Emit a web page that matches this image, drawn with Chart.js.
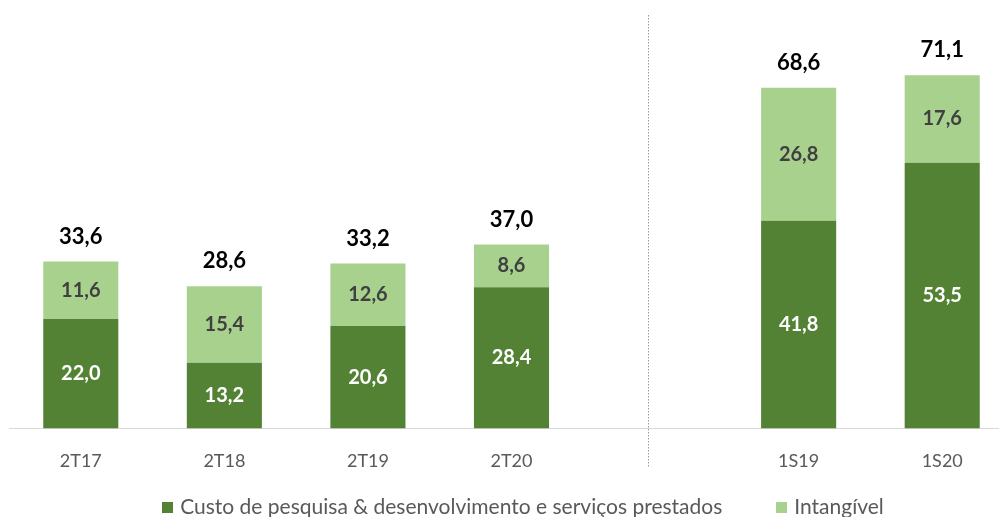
<!DOCTYPE html>
<html><head><meta charset="utf-8">
<script src="https://cdn.jsdelivr.net/npm/chart.js@4/dist/chart.umd.min.js"></script>
<style>
html,body{margin:0;padding:0;overflow:hidden;background:#fff;width:999px;height:517px;}
#wrap{position:absolute;left:0;top:0;width:1046px;height:517px;}
</style></head>
<body>
<div id="wrap"><canvas id="c" width="1046" height="517"></canvas></div>
<script>
const categories = ['2T17','2T18','2T19','2T20','','1S19','1S20'];
const custoPD = [22.0, 13.2, 20.6, 28.4, null, 41.8, 53.5];
const intangivel = [11.6, 15.4, 12.6, 8.6, null, 26.8, 17.6];
const seriesNames = ['Custo de pesquisa & desenvolvimento e serviços prestados', 'Intangível'];
const seriesColors = ['#548235', '#a9d18e'];

const FONT = 'Lato, "Open Sans", sans-serif';
const fmt = v => v.toFixed(1).replace('.', ',');

const labelPlugin = {
  id: 'labels',
  afterDatasetsDraw(chart) {
    const ctx = chart.ctx;
    ctx.save();
    ctx.textAlign = 'center';
    ctx.textBaseline = 'middle';
    const colors = ['#ffffff', '#404040'];
    chart.data.datasets.forEach((ds, di) => {
      const meta = chart.getDatasetMeta(di);
      meta.data.forEach((bar, i) => {
        const v = ds.data[i];
        if (v == null) return;
        ctx.font = 'bold 20px ' + FONT;
        ctx.fillStyle = colors[di];
        ctx.fillText(fmt(v), bar.x, (bar.y + bar.base) / 2);
      });
    });
    const top = chart.getDatasetMeta(chart.data.datasets.length - 1);
    top.data.forEach((bar, i) => {
      let sum = 0, ok = false;
      chart.data.datasets.forEach(ds => { if (ds.data[i] != null) { sum += ds.data[i]; ok = true; } });
      if (!ok) return;
      ctx.font = 'bold 22px ' + FONT;
      ctx.fillStyle = '#000000';
      ctx.fillText(fmt(sum), bar.x, bar.y - 25);
    });
    // dotted separator
    const xs = chart.scales.x;
    const sepX = Math.round((xs.getPixelForValue(3) + xs.getPixelForValue(5)) / 2 - 7) + 0.5;
    ctx.strokeStyle = '#9a9a9a';
    ctx.lineWidth = 1;
    ctx.setLineDash([1.5, 1.5]);
    ctx.beginPath();
    ctx.moveTo(sepX, 15);
    ctx.lineTo(sepX, 468);
    ctx.stroke();
    ctx.restore();

    // legend
    ctx.save();
    ctx.font = '21px ' + FONT;
    ctx.textBaseline = 'middle';
    ctx.textAlign = 'left';
    const box = 11, gapTxt = 7, gapItem = 54;
    const widths = seriesNames.map(n => ctx.measureText(n).width);
    let total = 0;
    widths.forEach((w, i) => { total += box + gapTxt + w + (i < widths.length - 1 ? gapItem : 0); });
    let x = 523 - total / 2;
    const y = 507;
    seriesNames.forEach((n, i) => {
      ctx.fillStyle = seriesColors[i];
      ctx.fillRect(Math.round(x), Math.round(y - box / 2), box, box);
      ctx.fillStyle = '#595959';
      ctx.fillText(n, x + box + gapTxt, y);
      x += box + gapTxt + widths[i] + gapItem;
    });
    ctx.restore();
  }
};

new Chart(document.getElementById('c'), {
  type: 'bar',
  data: {
    labels: categories,
    datasets: [
      { label: seriesNames[0], data: custoPD, backgroundColor: seriesColors[0], barPercentage: 0.523, categoryPercentage: 1.0 },
      { label: seriesNames[1], data: intangivel, backgroundColor: seriesColors[1], barPercentage: 0.523, categoryPercentage: 1.0 }
    ]
  },
  options: {
    responsive: false,
    animation: false,
    devicePixelRatio: 1,
    layout: { padding: { top: 31, left: 9, right: 32, bottom: 31 } },
    plugins: {
      tooltip: { enabled: false },
      legend: { display: false }
    },
    scales: {
      x: {
        stacked: true,
        grid: { display: false },
        border: { display: true, color: '#d9d9d9', width: 1 },
        ticks: { font: { family: FONT, size: 18 }, color: '#595959', padding: 14 }
      },
      y: {
        stacked: true,
        display: false,
        min: 0,
        max: 80
      }
    }
  },
  plugins: [labelPlugin]
});
</script>
</body></html>
